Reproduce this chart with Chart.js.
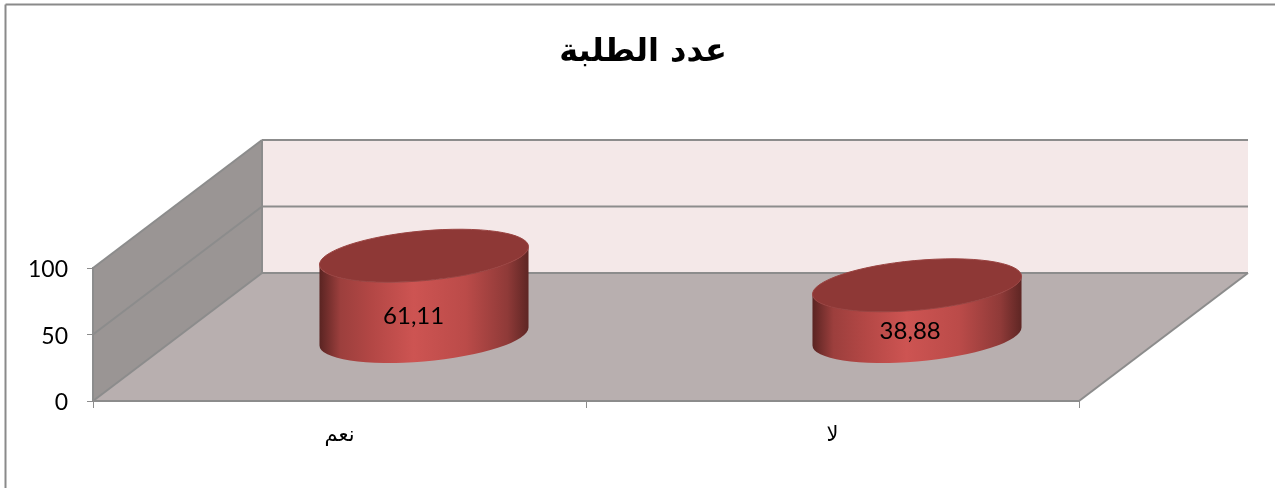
<!DOCTYPE html>
<html lang="ar">
<head>
    <meta charset="UTF-8">
    <title>عدد الطلبة</title>
    <style>
        body { margin: 0; background: #fff; }
        canvas { display: block; }
    </style>
    <script src="https://cdn.jsdelivr.net/npm/chart.js"></script>
</head>
<body>
<canvas id="myChart" width="1275" height="488"></canvas>
<script>
    const titulo = 'عدد الطلبة';
    const categorias = ['نعم', 'لا'];
    const valores = [61.11, 38.88];
    const ticksY = [0, 50, 100];

    // depth of the fake 3d box, in pixels
    const fondoX = 169;
    const fondoY = -128;
    const gris = '#8c8c8c';

    function poly(ctx, pts, color) {
        ctx.beginPath();
        pts.forEach((p, i) => i ? ctx.lineTo(p[0], p[1]) : ctx.moveTo(p[0], p[1]));
        ctx.closePath();
        ctx.fillStyle = color;
        ctx.fill();
    }

    function linea(ctx, x1, y1, x2, y2) {
        ctx.beginPath();
        ctx.moveTo(x1, y1);
        ctx.lineTo(x2, y2);
        ctx.stroke();
    }

    // frame and walls
    const caja = {
        id: 'caja',
        afterLayout(chart) {
            // title is centred on the whole frame, not on the plot
            chart.titleBlock.left = 11;
            chart.titleBlock.right = chart.width;
        },
        beforeDraw(chart) {
            const ctx = chart.ctx;
            const x = chart.scales.x;
            const y = chart.scales.y;
            const l = x.left, r = x.right, b = y.getPixelForValue(0), t = y.getPixelForValue(100);

            ctx.save();
            ctx.fillStyle = '#fff';
            ctx.fillRect(0, 0, chart.width, chart.height);

            ctx.strokeStyle = '#8a8a8a';
            ctx.lineWidth = 2;
            linea(ctx, 5.5, 4.5, 5.5, chart.height);
            linea(ctx, 5.5, 4.5, chart.width, 4.5);

            poly(ctx, [[l + fondoX, t + fondoY], [r + fondoX, t + fondoY], [r + fondoX, b + fondoY], [l + fondoX, b + fondoY]], '#f4e8e8');
            poly(ctx, [[l, b], [l, t], [l + fondoX, t + fondoY], [l + fondoX, b + fondoY]], '#9a9594');
            poly(ctx, [[l, b], [r, b], [r + fondoX, b + fondoY], [l + fondoX, b + fondoY]], '#b8afaf');

            ctx.strokeStyle = gris;
            ticksY.forEach(v => {
                const py = y.getPixelForValue(v);
                linea(ctx, l, py, l + fondoX, py + fondoY);
                linea(ctx, l + fondoX, py + fondoY, r + fondoX, py + fondoY);
            });
            linea(ctx, l + fondoX, t + fondoY, l + fondoX, b + fondoY);
            linea(ctx, r, b, r + fondoX, b + fondoY);
            ctx.restore();
        }
    };

    // the bars are transparent, each one is painted as a cylinder on top of it
    const cilindros = {
        id: 'cilindros',
        afterDatasetsDraw(chart) {
            const ctx = chart.ctx;
            const rot = -5.2 * Math.PI / 180;
            chart.getDatasetMeta(0).data.forEach((bar, i) => {
                const mitad = bar.width / 2;
                const a = mitad * 1.004;
                const b = mitad * 0.2375;
                const t0 = Math.atan2(-b * Math.sin(rot), a * Math.cos(rot));
                const cx = bar.x + fondoX / 2;
                const base = bar.base + fondoY / 2;
                const tope = bar.y + fondoY / 2;

                ctx.save();
                const g = ctx.createLinearGradient(cx - mitad, 0, cx + mitad, 0);
                g.addColorStop(0, '#5a2422');
                g.addColorStop(0.1, '#9c3f3d');
                g.addColorStop(0.25, '#b34745');
                g.addColorStop(0.45, '#cd5452');
                g.addColorStop(0.7, '#bb4b49');
                g.addColorStop(0.9, '#8f3a38');
                g.addColorStop(1, '#5e2624');

                ctx.beginPath();
                ctx.ellipse(cx, base, a, b, rot, t0, t0 + Math.PI, false);
                ctx.ellipse(cx, tope, a, b, rot, t0 + Math.PI, t0, true);
                ctx.closePath();
                ctx.fillStyle = g;
                ctx.fill();

                ctx.beginPath();
                ctx.ellipse(cx, tope, a, b, rot, 0, Math.PI * 2);
                ctx.fillStyle = '#8e3836';
                ctx.fill();
                ctx.strokeStyle = '#9a4341';
                ctx.lineWidth = 1;
                ctx.stroke();

                // label sits on the front of the cylinder, taller ones lean further left
                ctx.fillStyle = '#000';
                ctx.font = '24px Lato';
                ctx.textAlign = 'center';
                ctx.textBaseline = 'middle';
                const corrX = -0.7 - 0.12 * (base - tope);
                ctx.fillText(valores[i].toFixed(2).replace('.', ','), cx + corrX, (base + tope) / 2 + 20.5);
                ctx.restore();
            });
        }
    };

    const config = {
        type: 'bar',
        data: {
            labels: categorias,
            datasets: [{
                data: valores,
                backgroundColor: 'transparent',
                categoryPercentage: 1,
                barPercentage: 0.424
            }]
        },
        options: {
            responsive: false,
            animation: false,
            layout: { padding: { left: 12, right: 196, top: 0, bottom: 0 } },
            plugins: {
                legend: { display: false },
                tooltip: { enabled: false },
                title: {
                    display: true,
                    text: titulo,
                    color: '#000',
                    font: { family: 'DejaVu Sans', size: 32, weight: 'bold', lineHeight: 1.2 },
                    padding: { top: 33, bottom: 196.6 }
                }
            },
            scales: {
                x: {
                    afterFit(scale) { scale.height = 87; },
                    grid: { drawOnChartArea: false, tickLength: 7, tickColor: gris },
                    border: { color: gris, width: 2 },
                    ticks: { color: '#000', padding: 15, font: { family: 'DejaVu Sans', size: 21 }, maxRotation: 0 }
                },
                y: {
                    min: 0,
                    max: 100,
                    afterFit(scale) { scale.width = 81; },
                    afterBuildTicks(scale) { scale.ticks = ticksY.map(v => ({ value: v })); },
                    grid: { drawOnChartArea: false, tickLength: 6, tickColor: gris },
                    border: { color: gris, width: 2 },
                    ticks: { color: '#000', padding: 19, labelOffset: 2, font: { family: 'Lato', size: 23 } }
                }
            }
        },
        plugins: [caja, cilindros]
    };

    const myChart = new Chart(document.getElementById('myChart'), config);
</script>
</body>
</html>
